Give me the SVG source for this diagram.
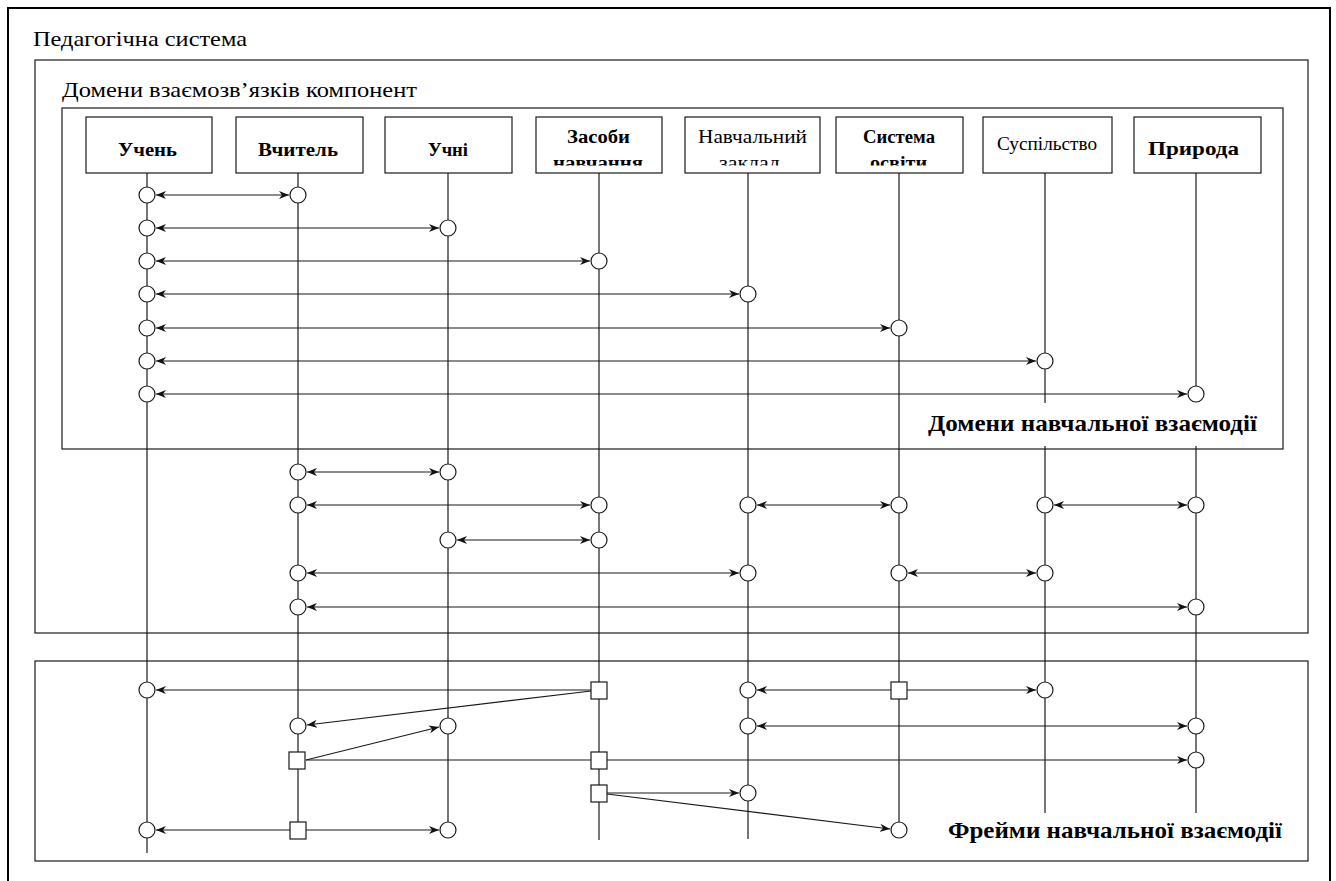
<svg xmlns="http://www.w3.org/2000/svg" width="1336" height="881" viewBox="0 0 1336 881">
<style>
.frame{fill:none;stroke:#1a1a1a;stroke-width:1.2}
.outer{fill:none;stroke:#000;stroke-width:2}
.box{fill:#fff;stroke:#1a1a1a;stroke-width:1.2}
.life{stroke:#1a1a1a;stroke-width:1.2;fill:none}
.con{stroke:#1a1a1a;stroke-width:1.2;fill:none}
.dbl{marker-start:url(#ah);marker-end:url(#ah)}
.one{marker-end:url(#ah)}
.port{fill:#fff;stroke:#1a1a1a;stroke-width:1.2}
text{font-family:"Liberation Serif","Times New Roman",serif;fill:#000}
.title{font-size:22px}
.big{font-size:24px;font-weight:bold}
.lb{font-size:19px;font-weight:bold;text-anchor:middle}
.lb2{font-size:18px;font-weight:bold;text-anchor:middle}
.lr{font-size:18px;text-anchor:middle}
</style>
<defs>
<marker id="ah" viewBox="0 0 10 8" refX="10" refY="4" markerWidth="10" markerHeight="8" markerUnits="userSpaceOnUse" orient="auto-start-reverse">
<path d="M0,0 L10,4 L0,8 L3,4 Z" fill="#111"/>
</marker>
<clipPath id="cZ"><rect x="537" y="118" width="125" height="47.5"/></clipPath>
<clipPath id="cN"><rect x="686" y="118" width="134" height="47.5"/></clipPath>
<clipPath id="cS"><rect x="837" y="118" width="126" height="47.5"/></clipPath>
</defs>
<rect width="1336" height="881" fill="#fff"/>

<g id="frames">
<path class="outer" d="M8,895 V8 H1330 V895"/>
<rect class="frame" x="35" y="60" width="1273" height="573"/>
<text class="title" x="33" y="46" textLength="214" lengthAdjust="spacingAndGlyphs">Педагогічна система</text>
<rect class="frame" x="62" y="108" width="1221" height="341"/>
<text class="title" x="62" y="97" textLength="355" lengthAdjust="spacingAndGlyphs">Домени взаємозв’язків компонент</text>
<rect class="frame" x="35" y="661" width="1273" height="200"/>
</g>

<g id="lifelines">
<line class="life" x1="147" y1="173" x2="147" y2="853"/>
<line class="life" x1="298" y1="173" x2="298" y2="838"/>
<line class="life" x1="448" y1="173" x2="448" y2="838"/>
<line class="life" x1="599" y1="173" x2="599" y2="840"/>
<line class="life" x1="748" y1="173" x2="748" y2="839"/>
<line class="life" x1="899" y1="173" x2="899" y2="830"/>
<line class="life" x1="1045" y1="173" x2="1045" y2="403"/>
<line class="life" x1="1045" y1="446" x2="1045" y2="813"/>
<line class="life" x1="1196" y1="173" x2="1196" y2="394"/>
<line class="life" x1="1196" y1="446" x2="1196" y2="813"/>
</g>

<g id="node-uchen"><rect class="box" x="86" y="117" width="126" height="56"/><text class="lb" x="147.5" y="156" textLength="59" lengthAdjust="spacingAndGlyphs">Учень</text></g>
<g id="node-vchytel"><rect class="box" x="236" y="117" width="127" height="56"/><text class="lb" x="298" y="156" textLength="80" lengthAdjust="spacingAndGlyphs">Вчитель</text></g>
<g id="node-uchni"><rect class="box" x="385" y="117" width="127" height="56"/><text class="lb" x="448" y="156" textLength="40" lengthAdjust="spacingAndGlyphs">Учні</text></g>
<g id="node-zasoby"><rect class="box" x="536" y="117" width="126" height="56"/><g clip-path="url(#cZ)"><text class="lb2" x="598.5" y="143" textLength="63" lengthAdjust="spacingAndGlyphs">Засоби</text><text class="lb2" x="598" y="169" textLength="90" lengthAdjust="spacingAndGlyphs">навчання</text></g></g>
<g id="node-zaklad"><rect class="box" x="685" y="117" width="135" height="56"/><g clip-path="url(#cN)"><text class="lr" x="752.5" y="143" textLength="109" lengthAdjust="spacingAndGlyphs">Навчальний</text><text class="lr" x="749.5" y="169" textLength="61" lengthAdjust="spacingAndGlyphs">заклад</text></g></g>
<g id="node-systema"><rect class="box" x="836" y="117" width="127" height="56"/><g clip-path="url(#cS)"><text class="lb2" x="899" y="143" textLength="72" lengthAdjust="spacingAndGlyphs">Система</text><text class="lb2" x="898.5" y="169" textLength="57" lengthAdjust="spacingAndGlyphs">освіти</text></g></g>
<g id="node-suspilstvo"><rect class="box" x="983" y="117" width="129" height="56"/><text class="lr" x="1047" y="150" textLength="100" lengthAdjust="spacingAndGlyphs">Суспільство</text></g>
<g id="node-pryroda"><rect class="box" x="1134" y="117" width="127" height="56"/><text class="lb" x="1193.5" y="155" textLength="91" lengthAdjust="spacingAndGlyphs">Природа</text></g>

<g id="connectors">
<line class="con dbl" x1="156" y1="195" x2="289" y2="195"/>
<line class="con dbl" x1="156" y1="228" x2="439" y2="228"/>
<line class="con dbl" x1="156" y1="261" x2="590" y2="261"/>
<line class="con dbl" x1="156" y1="294" x2="739" y2="294"/>
<line class="con dbl" x1="156" y1="328" x2="890" y2="328"/>
<line class="con dbl" x1="156" y1="361" x2="1036" y2="361"/>
<line class="con dbl" x1="156" y1="394" x2="1187" y2="394"/>

<line class="con dbl" x1="307" y1="472" x2="439" y2="472"/>
<line class="con dbl" x1="307" y1="505" x2="590" y2="505"/>
<line class="con dbl" x1="757" y1="505" x2="890" y2="505"/>
<line class="con dbl" x1="1054" y1="505" x2="1187" y2="505"/>
<line class="con dbl" x1="457" y1="540" x2="590" y2="540"/>
<line class="con dbl" x1="307" y1="573" x2="739" y2="573"/>
<line class="con dbl" x1="908" y1="573" x2="1036" y2="573"/>
<line class="con dbl" x1="307" y1="607" x2="1187" y2="607"/>

<line class="con one" x1="591" y1="690" x2="156" y2="690"/>
<line class="con one" x1="591" y1="691" x2="307" y2="725"/>
<line class="con one" x1="891" y1="690" x2="757" y2="690"/>
<line class="con one" x1="907" y1="690" x2="1036" y2="690"/>
<line class="con dbl" x1="757" y1="726" x2="1187" y2="726"/>
<line class="con one" x1="306" y1="760" x2="439" y2="727"/>
<line class="con one" x1="306" y1="760" x2="1187" y2="760"/>
<line class="con one" x1="607" y1="793" x2="739" y2="793"/>
<line class="con one" x1="607" y1="794" x2="890" y2="829"/>
<line class="con one" x1="290" y1="830" x2="156" y2="830"/>
<line class="con one" x1="306" y1="830" x2="439" y2="830"/>
</g>

<g id="ports">
<circle class="port" cx="147" cy="195" r="8"/><circle class="port" cx="298" cy="195" r="8"/>
<circle class="port" cx="147" cy="228" r="8"/><circle class="port" cx="448" cy="228" r="8"/>
<circle class="port" cx="147" cy="261" r="8"/><circle class="port" cx="599" cy="261" r="8"/>
<circle class="port" cx="147" cy="294" r="8"/><circle class="port" cx="748" cy="294" r="8"/>
<circle class="port" cx="147" cy="328" r="8"/><circle class="port" cx="899" cy="328" r="8"/>
<circle class="port" cx="147" cy="361" r="8"/><circle class="port" cx="1045" cy="361" r="8"/>
<circle class="port" cx="147" cy="394" r="8"/><circle class="port" cx="1196" cy="394" r="8"/>

<circle class="port" cx="298" cy="472" r="8"/><circle class="port" cx="448" cy="472" r="8"/>
<circle class="port" cx="298" cy="505" r="8"/><circle class="port" cx="599" cy="505" r="8"/>
<circle class="port" cx="748" cy="505" r="8"/><circle class="port" cx="899" cy="505" r="8"/>
<circle class="port" cx="1045" cy="505" r="8"/><circle class="port" cx="1196" cy="505" r="8"/>
<circle class="port" cx="448" cy="540" r="8"/><circle class="port" cx="599" cy="540" r="8"/>
<circle class="port" cx="298" cy="573" r="8"/><circle class="port" cx="748" cy="573" r="8"/>
<circle class="port" cx="899" cy="573" r="8"/><circle class="port" cx="1045" cy="573" r="8"/>
<circle class="port" cx="298" cy="607" r="8"/><circle class="port" cx="1196" cy="607" r="8"/>

<circle class="port" cx="147" cy="690" r="8"/><rect class="port" x="591" y="682" width="16" height="17"/>
<circle class="port" cx="748" cy="690" r="8"/><rect class="port" x="891" y="682" width="16" height="17"/>
<circle class="port" cx="1045" cy="690" r="8"/>
<circle class="port" cx="298" cy="726" r="8"/><circle class="port" cx="448" cy="726" r="8"/>
<circle class="port" cx="748" cy="726" r="8"/><circle class="port" cx="1196" cy="726" r="8"/>
<rect class="port" x="289" y="752" width="16" height="17"/><rect class="port" x="591" y="752" width="16" height="17"/>
<circle class="port" cx="1196" cy="760" r="8"/>
<rect class="port" x="591" y="785" width="16" height="17"/><circle class="port" cx="748" cy="793" r="8"/>
<circle class="port" cx="147" cy="830" r="8"/><rect class="port" x="290" y="822" width="16" height="17"/>
<circle class="port" cx="448" cy="830" r="8"/><circle class="port" cx="899" cy="830" r="8"/>
</g>

<g id="labels">
<text class="big" x="928" y="431" textLength="329" lengthAdjust="spacingAndGlyphs">Домени навчальної взаємодії</text>
<text class="big" x="948" y="838" textLength="334" lengthAdjust="spacingAndGlyphs">Фрейми навчальної взаємодії</text>
</g>
</svg>
